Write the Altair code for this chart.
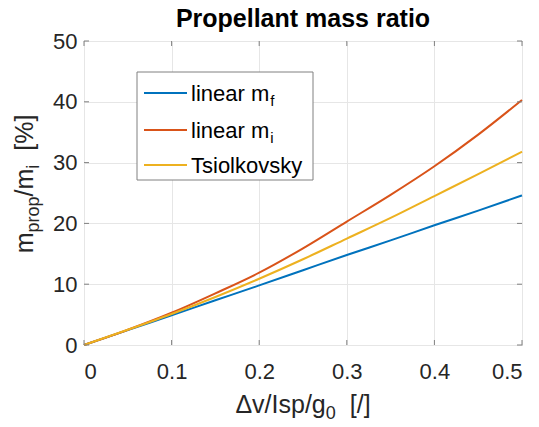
import altair as alt
import pandas as pd

# ---- data ----
x_vals = [0.0, 0.05, 0.1, 0.15, 0.2, 0.25, 0.3, 0.35, 0.4, 0.45, 0.5]
lin_mf = [0.0, 2.45, 4.9, 7.35, 9.8, 12.3, 14.8, 17.2, 19.7, 22.1, 24.6]
lin_mi = [0.0, 2.5, 5.3, 8.5, 11.9, 15.9, 20.3, 24.7, 29.4, 34.6, 40.3]
tsiol = [0.0, 2.5, 5.1, 7.9, 10.9, 14.1, 17.5, 20.9, 24.5, 28.1, 31.8]
colors = ["#0072BD", "#D95319", "#EDB120"]
x_ticks = [0, 0.1, 0.2, 0.3, 0.4, 0.5]
y_ticks = [0, 10, 20, 30, 40, 50]

W, H = 438, 304
FONT = "Liberation Sans"
TXT = "#262626"
BOX = "#808080"

# Arial / Liberation Sans advance widths (per 1000 em)
AW = {"m": 833, "p": 556, "r": 333, "o": 556, "/": 278, "i": 222, " ": 278,
      "[": 278, "%": 889, "]": 278, "\u0394": 668, "v": 500, "I": 278,
      "s": 500, "g": 556, "0": 556, "l": 222, "n": 556, "e": 556, "a": 556,
      "f": 278}


def tw(s, size):
    return sum(AW.get(c, 556) for c in s) * size / 1000.0


one = pd.DataFrame({"k": [0]})
xs = alt.Scale(domain=[0, 0.5], nice=False, zero=False)
ys = alt.Scale(domain=[0, 50], nice=False, zero=False)


def series(vals, color):
    d = pd.DataFrame({"x": x_vals, "y": vals})
    return alt.Chart(d).mark_line(strokeWidth=2, interpolate="monotone",
                                  color=color).encode(
        x=alt.X("x:Q", scale=xs,
                axis=alt.Axis(values=x_ticks, format="~g", title=None)),
        y=alt.Y("y:Q", scale=ys,
                axis=alt.Axis(values=y_ticks, format="d", title=None)),
    )


layers = [series(lin_mf, colors[0]), series(lin_mi, colors[1]),
          series(tsiol, colors[2])]

# inward ticks
xt = pd.DataFrame({"t": x_ticks})
yt = pd.DataFrame({"t": y_ticks})
for y0, y1 in [(H, H - 5), (0, 5)]:
    layers.append(alt.Chart(xt).mark_rule(color=BOX, strokeWidth=1).encode(
        x=alt.X("t:Q", scale=xs), y=alt.value(y0), y2=alt.value(y1)))
for x0, x1 in [(0, 5), (W - 5, W)]:
    layers.append(alt.Chart(yt).mark_rule(color=BOX, strokeWidth=1).encode(
        y=alt.Y("t:Q", scale=ys), x=alt.value(x0), x2=alt.value(x1)))


def text(t, x, y, size, angle=0, align="left", weight="normal", color=TXT):
    kw = dict(text=t, font=FONT, fontSize=size, align=align,
              baseline="alphabetic", fontWeight=weight, color=color)
    if angle:
        kw["angle"] = angle
    return alt.Chart(one).mark_text(**kw).encode(x=alt.value(x), y=alt.value(y))


# title
layers.append(text("Propellant mass ratio", W / 2, -14, 25, align="center",
                   weight="bold", color="#000000"))

# x-axis title with subscript ("gap" entries are blank space)
MS, SS = 25, 18
GAP = 14
xp = [("\u0394v/Isp/g", MS, 0), ("0", SS, 6), (None, GAP, 0), ("[/]", MS, 0)]


def plen(p):
    return p[1] if p[0] is None else tw(p[0], p[1])


total = sum(plen(p) for p in xp)
cx = W / 2 - total / 2
for p in xp:
    if p[0] is not None:
        layers.append(text(p[0], cx, 372 + p[2], p[1]))
    cx += plen(p)

# y-axis title with subscripts (rotated)
yp = [("m", MS, 0), ("prop", SS, 6), ("/m", MS, 0), ("i", SS, 6),
      (None, GAP, 0), ("[%]", MS, 0)]
total = sum(plen(p) for p in yp)
cy = 143 + total / 2
for p in yp:
    if p[0] is not None:
        layers.append(text(p[0], -51 + p[2], cy, p[1], angle=270))
    cy -= plen(p)

# legend box
layers.append(alt.Chart(one).mark_rect(fill="white", stroke=BOX,
                                       strokeWidth=1).encode(
    x=alt.value(53), x2=alt.value(229), y=alt.value(31), y2=alt.value(139)))
leg = [("linear m", "f", colors[0], 52), ("linear m", "i", colors[1], 89),
       ("Tsiolkovsky", "", colors[2], 124)]
LS, LSS = 22, 15
for main, sub, col, ry in leg:
    layers.append(alt.Chart(one).mark_rule(color=col, strokeWidth=2).encode(
        x=alt.value(60), x2=alt.value(103), y=alt.value(ry)))
    layers.append(text(main, 107, ry + 7.5, LS, color="#000000"))
    if sub:
        layers.append(text(sub, 107 + tw(main, LS) + 1, ry + 12.5, LSS,
                           color="#000000"))

chart = alt.layer(*layers).properties(
    width=W, height=H,
    autosize=alt.AutoSizeParams(type="none"),
    padding={"left": 84, "top": 41, "right": 17, "bottom": 82},
).configure_view(stroke=BOX, strokeWidth=1).configure_axis(
    grid=True, gridColor="#e6e6e6", domain=False, ticks=False,
    labelFont=FONT, labelFontSize=22, labelColor=TXT,
).configure_axisX(labelPadding=16).configure_axisY(labelPadding=7)

chart.save("out.html", embed_options={"renderer": "svg", "actions": False})
